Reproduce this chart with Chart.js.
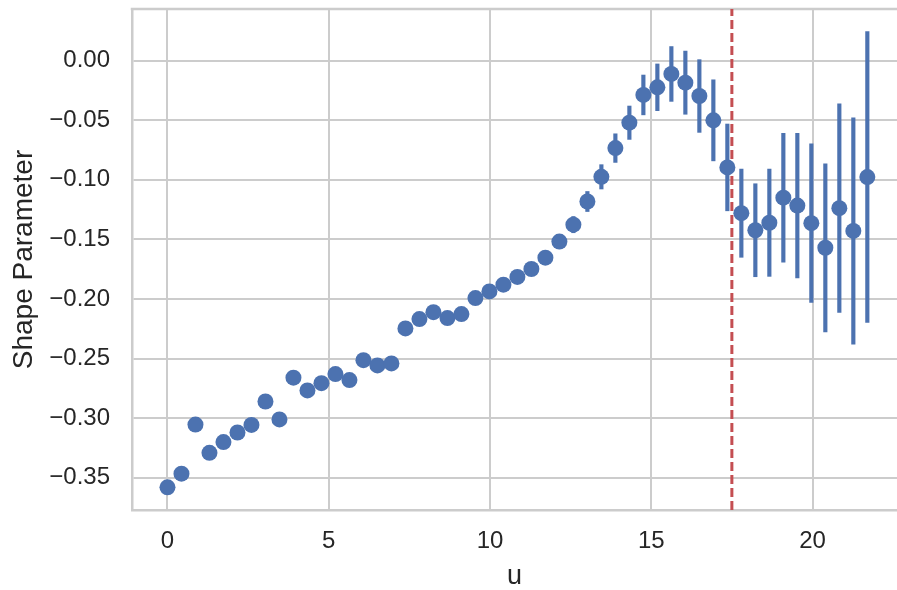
<!DOCTYPE html>
<html>
<head>
<meta charset="utf-8">
<script src="https://cdn.jsdelivr.net/npm/chart.js@4/dist/chart.umd.min.js"></script>
<style>
  html, body { margin: 0; padding: 0; background: #ffffff; }
  #wrap { width: 897px; height: 590px; position: relative; }
</style>
</head>
<body>
<div id="wrap"><canvas id="c" width="897" height="590"></canvas></div>
<script>
// Threshold values u and the fitted shape parameter at each one
const uValues = [
  0.000, 0.434, 0.868, 1.302, 1.736, 2.170, 2.604, 3.038, 3.472, 3.906,
  4.340, 4.774, 5.208, 5.642, 6.076, 6.510, 6.944, 7.378, 7.812, 8.246,
  8.680, 9.114, 9.548, 9.982, 10.416, 10.850, 11.284, 11.718, 12.152, 12.586,
  13.020, 13.454, 13.888, 14.322, 14.756, 15.190, 15.624, 16.058, 16.492, 16.926,
  17.360, 17.794, 18.228, 18.662, 19.096, 19.530, 19.964, 20.398, 20.832, 21.266,
  21.700
];
const shapeEstimate = [
  -0.358, -0.3465, -0.3053, -0.329, -0.320, -0.312, -0.3056, -0.286, -0.301, -0.266,
  -0.2767, -0.2706, -0.263, -0.268, -0.2513, -0.2557, -0.254, -0.2247, -0.2168, -0.211,
  -0.216, -0.2126, -0.1992, -0.1936, -0.188, -0.1815, -0.1748, -0.1653, -0.1518, -0.1376,
  -0.1182, -0.0975, -0.0734, -0.0521, -0.0288, -0.0224, -0.0112, -0.0185, -0.0297, -0.0501,
  -0.0896, -0.128, -0.1423, -0.136, -0.115, -0.1216, -0.1364, -0.157, -0.1238, -0.1429,
  -0.0977
];
// Half-width of the confidence interval around each estimate
const shapeError = [
  0.0010, 0.0010, 0.0012, 0.0012, 0.0013, 0.0014, 0.0015, 0.0016, 0.0017, 0.0018,
  0.0019, 0.0020, 0.0021, 0.0022, 0.0024, 0.0025, 0.0027, 0.0028, 0.0030, 0.0032,
  0.0034, 0.0036, 0.0038, 0.0040, 0.0043, 0.0046, 0.0050, 0.0054, 0.0060, 0.0068,
  0.0084, 0.0102, 0.0120, 0.0140, 0.0167, 0.0196, 0.0230, 0.0265, 0.0305, 0.0340,
  0.0364, 0.0370, 0.0390, 0.0450, 0.0540, 0.0607, 0.0665, 0.0705, 0.0875, 0.0950,
  0.1220
];
// Chosen threshold (vertical reference line)
const chosenU = 17.5;

const xTicks = [0, 5, 10, 15, 20];
const yTicks = [-0.35, -0.30, -0.25, -0.20, -0.15, -0.10, -0.05, 0.00];
const xRange = [-1.10, 22.62];
const yRange = [-0.377, 0.0433];

const BLUE = '#4c72b0';
const RED = '#c44e52';
const GRID = '#cccccc';
const TEXT = '#262626';
const FONT = "'Liberation Sans', Arial, Helvetica, sans-serif";

const points = uValues.map((u, i) => ({ x: u, y: shapeEstimate[i] }));
const errorBars = uValues.map((u, i) => ({
  x: u,
  y: [shapeEstimate[i] - shapeError[i], shapeEstimate[i] + shapeError[i]]
}));
const thresholdLine = [{ x: chosenU, y: yRange[0] }, { x: chosenU, y: yRange[1] }];

// Top spine of the axes frame
const topSpine = {
  id: 'topSpine',
  beforeDatasetsDraw(chart) {
    const { ctx, chartArea } = chart;
    ctx.save();
    ctx.strokeStyle = GRID;
    ctx.lineWidth = 2.5;
    ctx.beginPath();
    ctx.moveTo(chartArea.left - 1.25, chartArea.top);
    ctx.lineTo(chartArea.right, chartArea.top);
    ctx.stroke();
    ctx.restore();
  }
};

const fmtY = v => {
  const a = Math.abs(v).toFixed(2);
  return (v < -1e-9 ? '\u2212' : '') + a;
};

new Chart(document.getElementById('c'), {
  type: 'scatter',
  data: {
    datasets: [
      {
        type: 'bar',
        label: 'interval',
        data: errorBars,
        backgroundColor: BLUE,
        borderWidth: 0,
        barThickness: 3.5,
        grouped: false,
        order: 3
      },
      {
        type: 'line',
        label: 'threshold',
        data: thresholdLine,
        borderColor: RED,
        borderWidth: 3,
        borderDash: [9, 4],
        pointRadius: 0,
        fill: false,
        order: 2
      },
      {
        type: 'scatter',
        label: 'shape',
        data: points,
        backgroundColor: BLUE,
        borderWidth: 0,
        pointRadius: 8,
        pointHoverRadius: 8,
        order: 1
      }
    ]
  },
  options: {
    responsive: false,
    animation: false,
    events: [],
    layout: { autoPadding: false, padding: { top: 9, right: 0, bottom: 0, left: 0 } },
    plugins: { legend: { display: false }, tooltip: { enabled: false } },
    scales: {
      x: {
        type: 'linear',
        min: xRange[0],
        max: xRange[1],
        offset: false,
        afterFit(scale) {
          scale.height = 80;
          scale.paddingLeft = 0;
          scale.paddingRight = 0;
        },
        afterBuildTicks(scale) { scale.ticks = xTicks.map(v => ({ value: v })); },
        grid: { color: GRID, lineWidth: 2, drawTicks: false, offset: false },
        border: { display: true, color: GRID, width: 2.5 },
        ticks: {
          padding: 17,
          color: TEXT,
          font: { family: FONT, size: 24 },
          maxRotation: 0,
          autoSkip: false,
          callback: v => String(v)
        },
        title: {
          display: true,
          text: 'u',
          color: TEXT,
          font: { family: FONT, size: 27, lineHeight: 1.0 },
          padding: { top: 0, bottom: 0 }
        }
      },
      y: {
        type: 'linear',
        min: yRange[0],
        max: yRange[1],
        afterFit(scale) {
          scale.width = 132;
          scale.paddingTop = 0;
          scale.paddingBottom = 0;
        },
        afterBuildTicks(scale) { scale.ticks = yTicks.map(v => ({ value: v })); },
        grid: { color: GRID, lineWidth: 2, drawTicks: false },
        border: { display: true, color: GRID, width: 2.5 },
        ticks: {
          padding: 22,
          color: TEXT,
          font: { family: FONT, size: 24 },
          autoSkip: false,
          callback: v => fmtY(v)
        },
        title: {
          display: true,
          text: 'Shape Parameter',
          color: TEXT,
          font: { family: FONT, size: 28, lineHeight: 1.2 },
          padding: { top: 7, bottom: 0 }
        }
      }
    }
  },
  plugins: [topSpine]
});
</script>
</body>
</html>
